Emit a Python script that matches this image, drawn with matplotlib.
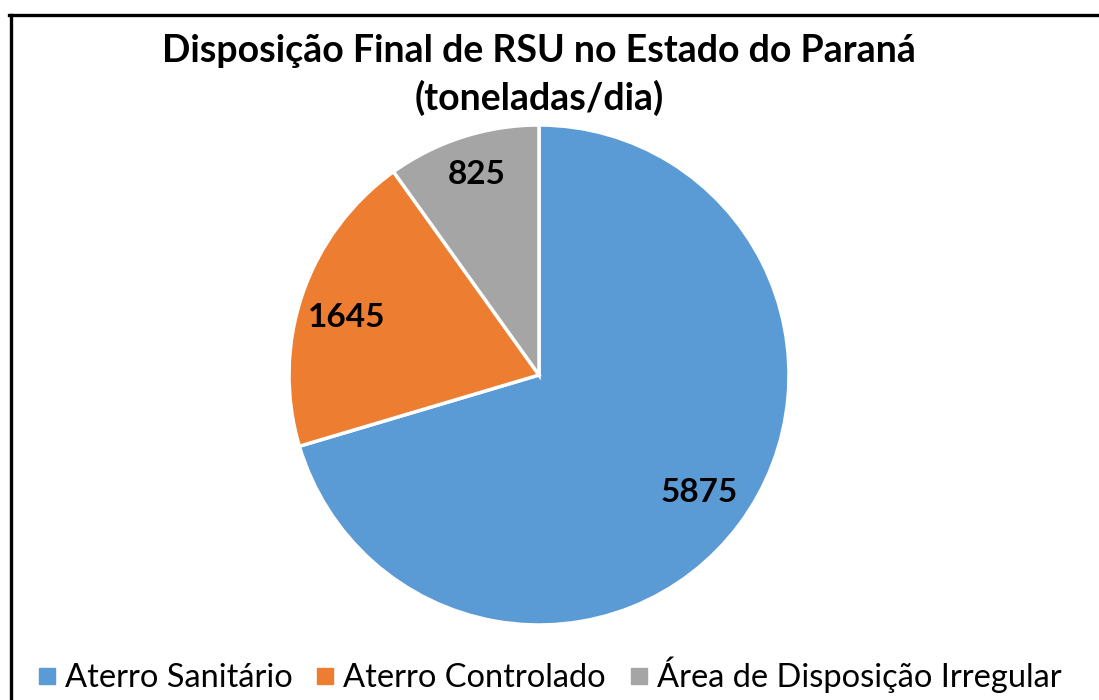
import matplotlib.pyplot as plt
from matplotlib.lines import Line2D

categorias = ['Aterro Sanitário', 'Aterro Controlado', 'Área de Disposição Irregular']
valores = [5875, 1645, 825]
cores = ['#5B9BD5', '#ED7D31', '#A5A5A5']

plt.rcParams['font.family'] = ['Lato', 'DejaVu Sans']

fig = plt.figure(figsize=(10.99, 7.0), dpi=100)

# moldura: so as bordas esquerda e superior aparecem no original
W, H = 1099, 700
fig.add_artist(Line2D([10.5/W, 10.5/W], [0, 1-14.5/H], color='black', lw=2.4,
                      transform=fig.transFigure))
fig.add_artist(Line2D([10.5/W - 1.2/W, 1], [1-14.5/H, 1-14.5/H], color='black', lw=2.4,
                      transform=fig.transFigure))

ax = fig.add_axes([(539-250)/W, (H-625)/H, 500/W, 500/H])
wedges, texts = ax.pie(valores, colors=cores, startangle=90, counterclock=False,
                       radius=1.0, wedgeprops={'edgecolor': 'white', 'linewidth': 2.5})
ax.set_xlim(-1, 1)
ax.set_ylim(-1, 1)
ax.set_aspect('equal')

# rotulos de valor
pos = [(0.64, -0.47), (-0.77, 0.23), (-0.25, 0.80)]
for v, (x, y) in zip(valores, pos):
    ax.text(x, y, str(v), ha='center', va='center', fontsize=24, fontweight='bold')

fig.text(539/W, 1-75/H, 'Disposição Final de RSU no Estado do Paraná\n(toneladas/dia)',
         ha='center', va='center', fontsize=27, fontweight='bold', linespacing=1.4)

handles = [Line2D([], [], marker='s', linestyle='none', markersize=11,
                  markerfacecolor=c, markeredgecolor=c) for c in cores]
fig.legend(handles, categorias, loc='center', bbox_to_anchor=(546/W, 1-675/H),
           ncol=3, frameon=False, fontsize=23.5, handletextpad=0.05, columnspacing=0.5,
           handlelength=1.0)

fig.savefig('out.png', dpi=100)
